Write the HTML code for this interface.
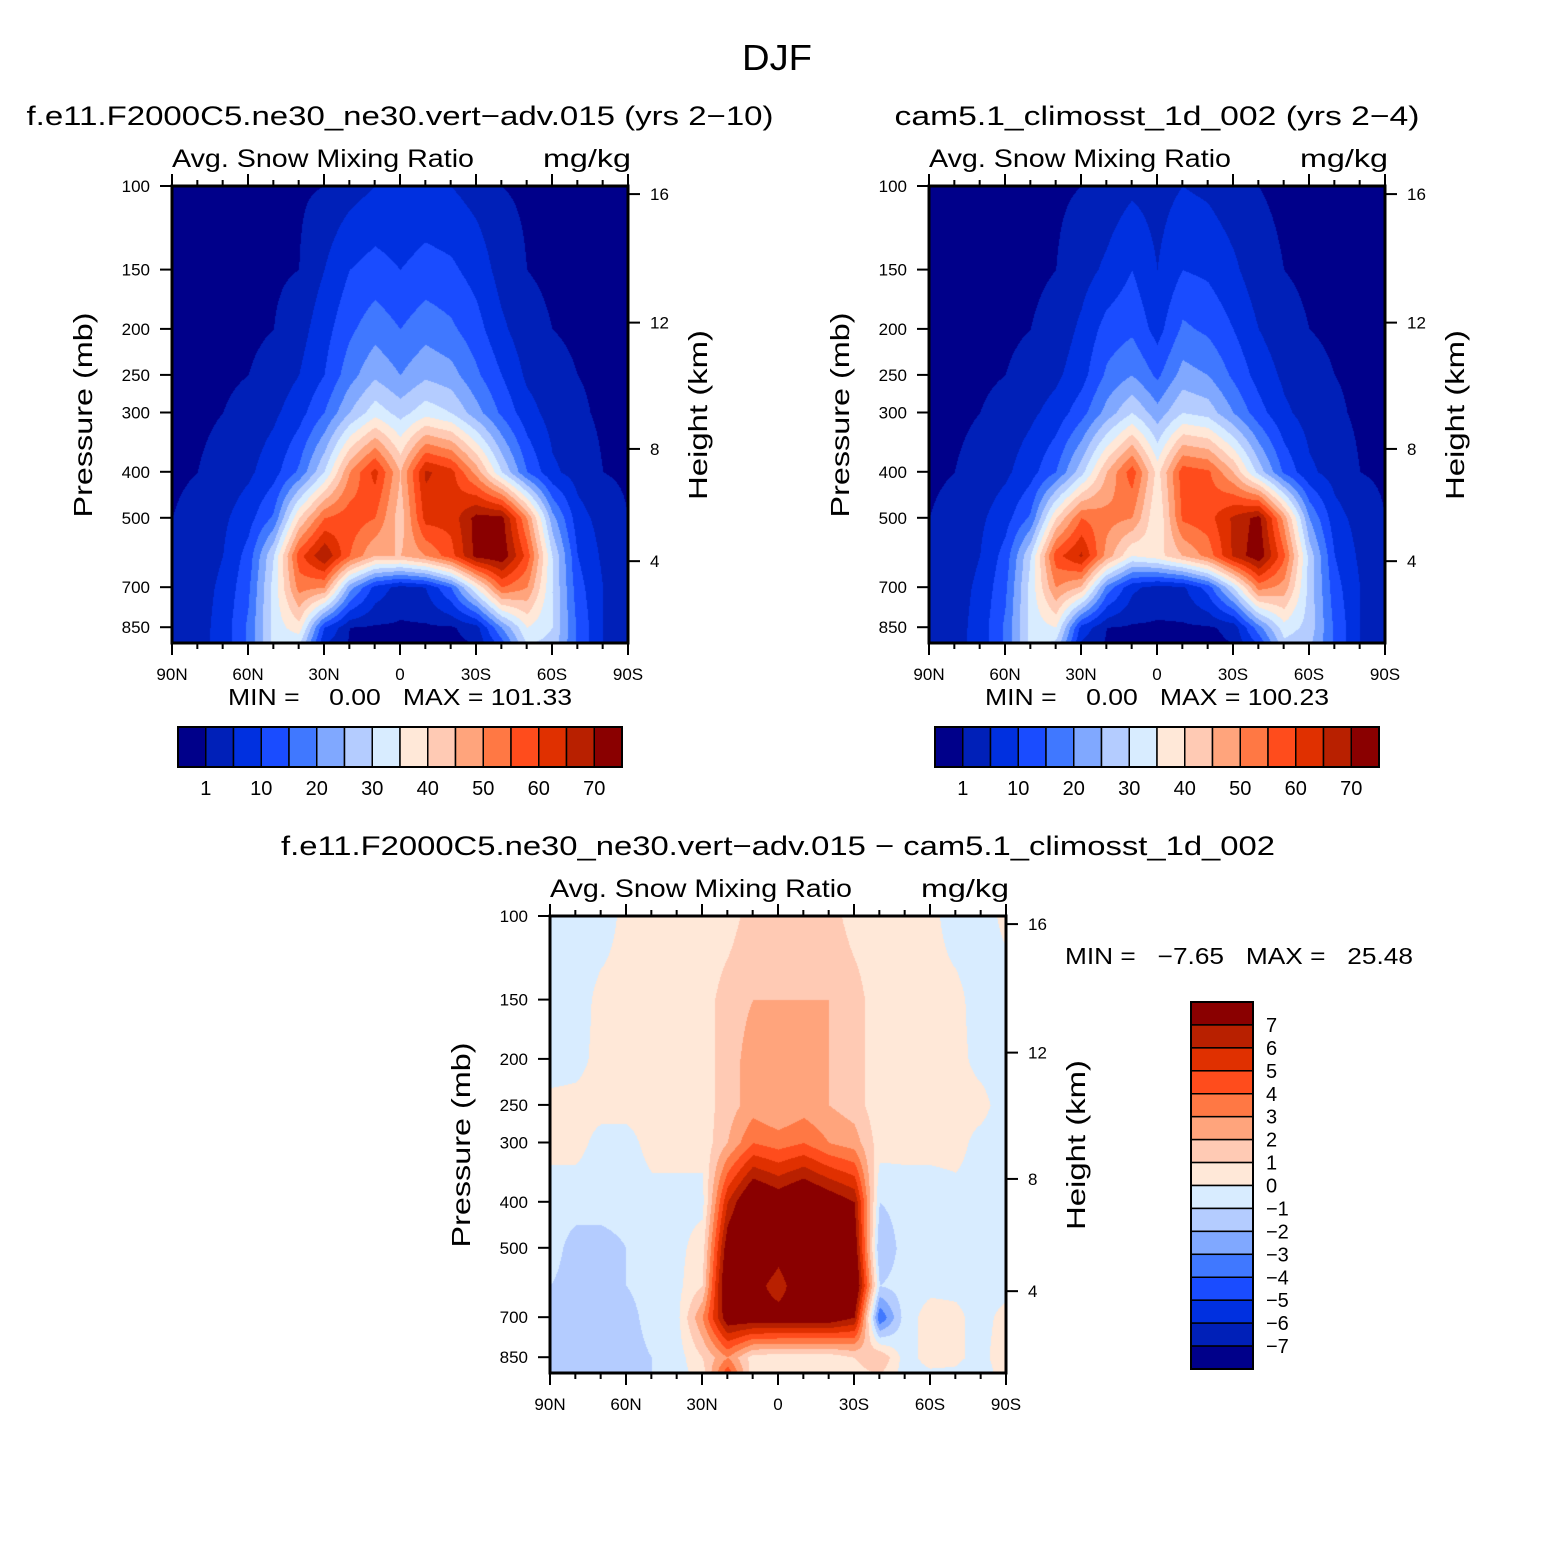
<!DOCTYPE html>
<html><head><meta charset="utf-8">
<style>
body{margin:0;background:#fff;}
#wrap{position:relative;width:1558px;height:1561px;overflow:hidden;background:#fff;}
canvas{position:absolute;}
svg{position:absolute;left:0;top:0;}
text{font-family:"Liberation Sans",sans-serif;fill:#000;white-space:pre;}
</style></head>
<body>
<div id="wrap">
<canvas id="c1" width="456" height="457" style="left:172px;top:186px"></canvas>
<canvas id="c2" width="456" height="457" style="left:929px;top:186px"></canvas>
<canvas id="c3" width="456" height="457" style="left:550px;top:916px"></canvas>
<svg id="s" width="1558" height="1561"></svg>
</div>
<script>
const lats=[90,80,70,60,50,40,30,20,10,0,-10,-20,-30,-40,-50,-60,-70,-80,-90];
const plevs=[100,150,200,250,300,400,500,600,700,850,925];
const field1=[
[0,0,0,0,0,0.5,1,3,5,5,6,5,3,1,0.5,0,0,0,0],
[0,0,0,0,0.5,1,5,10,12,10,12,11,8,3,1,0.5,0,0,0],
[0,0,0,0.5,1,3,8,14,18,15,18,16,12,6,2,1,0.5,0,0],
[0,0,0.5,1,2,5,10,18,24,20,24,22,16,10,4,2,1,0.5,0],
[0,0.5,1,2,4,8,15,25,33,28,33,30,22,14,7,3,1.5,0.5,0],
[0.5,1,2,4,8,16,30,50,62,45,66,62,48,30,15,6,3,1,0.5],
[1,2,4,8,16,40,55,58,55,42,62,62,72,72,50,22,7,3,1],
[1,2.5,5,12,30,58,70,55,45,45,50,58,72,74,58,30,10,4,1.5],
[1,3,6,14,32,52,50,22,8,3,5,15,35,55,50,30,12,5,2],
[1,3,7,16,32,38,10,1,0.5,0.5,0.5,0.5,3,20,35,30,14,5,2],
[1,3,7,16,32,30,5,0.5,0,0,0,0,1,12,30,28,14,5,2]];
const field2=[
[0,0,0,0,0,0.5,1,2,4,3,5,4,2,1,0.5,0,0,0,0],
[0,0,0,0,0.5,1,3,6,10,5,10,9,6,2,1,0.5,0,0,0],
[0,0,0,0.5,1,2,6,12,14,8,16,14,10,5,2,1,0.5,0,0],
[0,0,0.5,1,2,4,8,16,20,14,22,20,14,8,4,2,1,0.5,0],
[0,0.5,1,2,4,7,13,22,30,22,30,28,20,12,6,3,1.5,0.5,0],
[0.5,1,2,4,8,15,28,45,58,38,58,56,45,28,14,6,3,1,0.5],
[1,2,4,8,16,40,55,52,50,35,56,58,66,72,48,20,7,3,1],
[1,2.5,5,12,30,58,66,48,35,38,45,52,66,74,56,28,10,4,1.5],
[1,3,6,14,32,50,44,18,6,3,4,12,30,52,48,28,12,5,2],
[1,3,7,16,32,35,8,1,0.5,0.5,0.5,0.5,2,18,33,28,14,5,2],
[1,3,7,16,32,28,4,0.5,0,0,0,0,1,10,28,26,14,5,2]];
const field3=[
[-0.5,-0.5,-0.5,0.3,0.3,0.3,0.3,0.5,1.5,1.5,1.5,1.5,0.5,0.3,0.3,0.3,-0.5,-0.5,0.3],
[-0.5,-0.5,0.3,0.3,0.3,0.3,0.5,1.5,2,2,2,2,1.5,0.3,0.3,0.3,0.3,-0.5,-0.5],
[-0.5,-0.3,0.3,0.3,0.3,0.3,0.5,1.5,2.5,2,2.5,2,1.5,0.3,0.3,0.3,0.3,-0.3,-0.5],
[0.3,0.3,0.3,0.3,0.3,0.3,0.5,1.5,2.5,2,2.5,2,1.5,0.3,0.3,0.3,0.3,0.3,-0.5],
[0.3,0.3,-0.3,-0.3,0.3,0.3,0.3,2,4,3.5,4,3,2.5,0.5,0.3,0.3,0.3,-0.3,-0.5],
[-0.5,-0.5,-0.5,-0.5,-0.3,-0.3,-0.3,6,9,8,9,8,7,-1,-0.5,-0.5,-0.3,-0.3,-0.5],
[-0.5,-1.5,-1.5,-1,-0.5,-0.3,0.5,8,10,8,10,9,8,-2,-0.5,-0.5,-0.3,-0.3,-0.5],
[-1,-1.5,-2,-1,-0.5,-0.3,1,9,8,6,9,9,9,-1,-0.5,-0.3,-0.3,-0.5,-0.5],
[-1.5,-1.5,-2,-1.5,-0.5,-0.3,3,8,8,8,8,8,7,-4,-0.5,0.5,0.3,-0.5,0.5],
[-1.5,-1.5,-2,-1.5,-1,-0.5,1,3,0.5,0.3,0.3,0.3,1,2,-0.5,0.5,0.3,-0.5,1],
[-1.5,-1.5,-2,-1.5,-1,-0.5,0.5,5,0.3,0.3,0.3,0.3,0.5,1,-0.5,-0.3,-0.3,-1,1]];
const levels12=[1,5,10,15,20,25,30,35,40,45,50,55,60,65,70];
const cbLabels12=["1","10","20","30","40","50","60","70"];
const levels3=[-7,-6,-5,-4,-3,-2,-1,0,1,2,3,4,5,6,7];
const cbLabels3=["7","6","5","4","3","2","1","0","−1","−2","−3","−4","−5","−6","−7"];
const colors=["#00008a","#0020b8","#0030e0","#1a4cff","#4078ff","#80a8ff","#b4ccff","#d8ecff","#ffe8d8","#ffcab4","#ffa47c","#ff7844","#ff4c1c","#e03000","#b82000","#8a0000"];
const pLabels=[100,150,200,250,300,400,500,700,850];
const hLabels=[4,8,12,16];
const hPress=[617,358,194,104];
const latLabels=["90N","60N","30N","0","30S","60S","90S"];

const W=456,H=457;
function yOfP(p){return (Math.log10(p)-2)/0.929*441;}
function pOfY(y){return Math.pow(10,2+y/441*0.929);}
function xOfLat(l){return (90-l)/180*W;}
function hexRgb(h){return [parseInt(h.substr(1,2),16),parseInt(h.substr(3,2),16),parseInt(h.substr(5,2),16)];}
const rgb=colors.map(hexRgb);
function sample(f,lat,p){
  let i=0;while(i<lats.length-2&&lat<lats[i+1])i++;
  let tx=(lats[i]-lat)/(lats[i]-lats[i+1]);
  const lp=Math.log(p);let j=0;
  while(j<plevs.length-2&&p>plevs[j+1])j++;
  let ty=(lp-Math.log(plevs[j]))/(Math.log(plevs[j+1])-Math.log(plevs[j]));
  tx=Math.max(0,Math.min(1,tx));ty=Math.max(0,Math.min(1,ty));
  const a=f[j][i],b=f[j][i+1],c=f[j+1][i],d=f[j+1][i+1];
  return (a*(1-tx)+b*tx)*(1-ty)+(c*(1-tx)+d*tx)*ty;
}
function render(id,f,lev){
  const ctx=document.getElementById(id).getContext('2d');
  const img=ctx.createImageData(W,H);
  for(let y=0;y<H;y++){const p=pOfY(y);
    for(let x=0;x<W;x++){const lat=90-x/W*180;
      const v=sample(f,lat,p);let k=0;while(k<lev.length&&v>=lev[k])k++;
      const c=rgb[k];const o=(y*W+x)*4;img.data[o]=c[0];img.data[o+1]=c[1];img.data[o+2]=c[2];img.data[o+3]=255;}}
  ctx.putImageData(img,0,0);
}
render('c1',field1,levels12);render('c2',field2,levels12);render('c3',field3,levels3);

const S=document.getElementById('s');const NS="http://www.w3.org/2000/svg";
function el(tag,attrs,txt){const e=document.createElementNS(NS,tag);for(const k in attrs)e.setAttribute(k,attrs[k]);if(txt!==undefined)e.textContent=txt;S.appendChild(e);return e;}
function txt(x,y,s,size,anchor,len){const a={x:x,y:y,'font-size':size,'text-anchor':anchor||'middle'};
  if(len){a.textLength=len;a.lengthAdjust='spacingAndGlyphs';}
  return el('text',a,s);}

let t=txt(777,70,"DJF",36,'middle',70);



function axes(x0,y0,title,tlen,tag){
  let e=txt(x0+228,y0-61,title,27,'middle',tlen);
  
  
  e=txt(x0,y0-19,"Avg. Snow Mixing Ratio",25,'start',302);
  
  
  e=txt(x0+459,y0-19,"mg/kg",25,'end',88);
  
  
  e=el('rect',{x:x0,y:y0,width:W,height:H,fill:'none',stroke:'#000','stroke-width':3});
  
  
  for(let l=90;l>=-90;l-=10){const x=x0+xOfLat(l);const major=(l%30===0);const len=major?12:6;
    el('line',{x1:x,y1:y0,x2:x,y2:y0-len,stroke:'#000','stroke-width':2});
    el('line',{x1:x,y1:y0+H,x2:x,y2:y0+H+len,stroke:'#000','stroke-width':2});}
  latLabels.forEach((s,i)=>{const x=x0+xOfLat(90-i*30);
    const e=txt(x,y0+H+37,s,17);
    
    });
  pLabels.forEach(p=>{const y=y0+yOfP(p);
    el('line',{x1:x0,y1:y,x2:x0-12,y2:y,stroke:'#000','stroke-width':2});
    const e=txt(x0-22,y+6,String(p),17,'end');
    
    });
  hLabels.forEach((h,i)=>{const y=y0+yOfP(hPress[i]);
    el('line',{x1:x0+W,y1:y,x2:x0+W+12,y2:y,stroke:'#000','stroke-width':2});
    const e=txt(x0+W+22,y+6,String(h),17,'start');
    
    });
  e=txt(0,0,"Pressure (mb)",26,'middle',205);
  e.setAttribute('transform',`translate(${x0-80},${y0+229}) rotate(-90)`);
  
  
  e=txt(0,0,"Height (km)",26,'middle',170);
  e.setAttribute('transform',`translate(${x0+W+79},${y0+229}) rotate(-90)`);
  
  
}
axes(172,186,"f.e11.F2000C5.ne30_ne30.vert−adv.015 (yrs 2−10)",747,"panel1");
axes(929,186,"cam5.1_climosst_1d_002 (yrs 2−4)",525,"panel2");
axes(550,916,"f.e11.F2000C5.ne30_ne30.vert−adv.015 − cam5.1_climosst_1d_002",994,"diff");

t=txt(400,705,"MIN =    0.00   MAX = 101.33",23,'middle',344);


t=txt(1157,705,"MIN =    0.00   MAX = 100.23",23,'middle',344);


t=txt(1065,964,"MIN =   −7.65   MAX =   25.48",23,'start',348);



function hbar(x0,tag){
  const bw=444/16;
  colors.forEach((c,i)=>{const r=el('rect',{x:x0+i*bw,y:727,width:bw,height:40,fill:c,stroke:'#000','stroke-width':1.5});
    
    });
  el('rect',{x:x0,y:727,width:444,height:40,fill:'none',stroke:'#000','stroke-width':2});
  cbLabels12.forEach((s,i)=>{const e=txt(x0+bw*(1+2*i),795,s,20);
    
    });
}
hbar(178,'panel1');hbar(935,'panel2');
const vh=367/16;
colors.slice().reverse().forEach((c,i)=>{const r=el('rect',{x:1191,y:1002+i*vh,width:62,height:vh,fill:c,stroke:'#000','stroke-width':1.5});
  
  });
el('rect',{x:1191,y:1002,width:62,height:367,fill:'none',stroke:'#000','stroke-width':2});
cbLabels3.forEach((s,i)=>{const e=txt(1266,1002+vh*(i+1)+7,s,20,'start');
  
  });
</script>
</body></html>
